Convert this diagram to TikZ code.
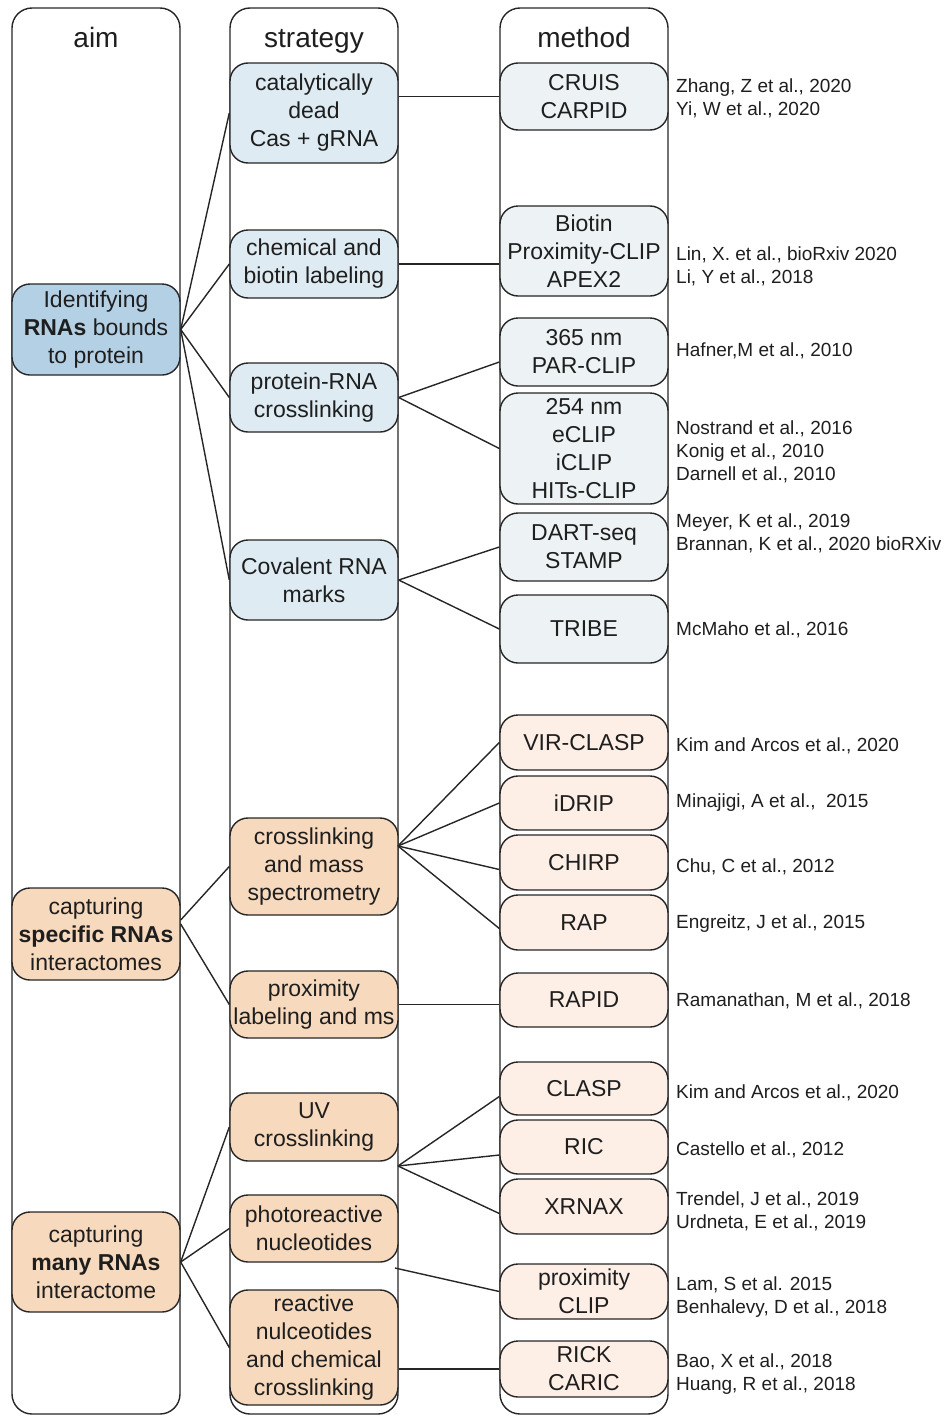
\documentclass[tikz,border=0pt]{standalone}
\usepackage{fontspec}
\setmainfont{Liberation Sans}
\usepackage{xcolor}
\definecolor{rnaline}{HTML}{262626}
\definecolor{rnatext}{HTML}{1E1E1E}
\definecolor{rnaaimblue}{HTML}{B4D0E4}
\definecolor{rnastrblue}{HTML}{DEEBF2}
\definecolor{rnametblue}{HTML}{EDF3F4}
\definecolor{rnapeach}{HTML}{F7D9BD}
\definecolor{rnametpeach}{HTML}{FDEEE6}
\usepackage{tikz}
\usetikzlibrary{positioning,calc}
\tikzset{
  rnacol/.style={draw=rnaline,line width=1.4pt,rounded corners=20pt},
  rnahead/.style={font=\fontsize{28}{32}\selectfont,text=rnatext,inner sep=0pt,anchor=base},
  rnabox/.style={draw=rnaline,line width=1.4pt,rounded corners=18pt,minimum width=168pt,align=center,inner xsep=1pt,inner ysep=0pt,font=\fontsize{23}{28}\selectfont,text=rnatext},
  rnaaim/.style={rnabox,fill=rnaaimblue},
  rnastr/.style={rnabox,fill=rnastrblue},
  rnamet/.style={rnabox,fill=rnametblue},
  rnaaimp/.style={rnabox,fill=rnapeach},
  rnastrp/.style={rnabox,fill=rnapeach},
  rnametp/.style={rnabox,fill=rnametpeach},
  rnaref/.style={anchor=west,align=left,font=\fontsize{19}{23}\selectfont,text=rnatext,inner sep=0pt},
  rnalink/.style={draw=rnaline,line width=1.4pt},
}
\begin{document}
\begin{tikzpicture}[x=1pt,y=-1pt]
\useasboundingbox (0,0) rectangle (946,1416);
 % three columns
\draw[rnacol] (12,8) rectangle (180,1414);
\draw[rnacol] (230,8) rectangle (398,1414);
\draw[rnacol] (500,8) rectangle (668,1414);
\node[rnahead] (haim) at (96,47) {aim};
\node[rnahead] (hstr) at (314,47) {strategy};
\node[rnahead] (hmet) at (584,47) {method};
 % aim
\node[rnaaim,minimum height=91pt] (id) at (96,329.5) {Identifying\\\textbf{RNAs} bounds\\to protein};
\node[rnaaimp,minimum height=92pt] (spec) at (96,934) {capturing\\\textbf{specific RNAs}\\interactomes};
\node[rnaaimp,minimum height=100pt] (many) at (96,1262) {capturing\\\textbf{many RNAs}\\interactome};
 % strategy
\node[rnastr,minimum height=100pt] (cas) at (314,113) {catalytically\\dead\\Cas + gRNA};
\node[rnastr,minimum height=68pt] (chem) at (314,264) {chemical and\\biotin labeling};
\node[rnastr,minimum height=69pt] (prx) at (314,397.5) {protein-RNA\\crosslinking};
\node[rnastr,minimum height=80pt] (cov) at (314,580) {Covalent RNA\\marks};
\node[rnastrp,minimum height=97pt] (xms) at (314,866.5) {crosslinking\\and mass\\spectrometry};
\node[rnastrp,minimum height=67pt] (plm) at (314,1004.5) {proximity\\labeling and ms};
\node[rnastrp,minimum height=68pt] (uv) at (314,1127) {UV\\crosslinking};
\node[rnastrp,minimum height=67pt] (pho) at (314,1228.5) {photoreactive\\nucleotides};
\node[rnastrp,minimum height=115pt] (rea) at (314,1347.5) {reactive\\nulceotides\\and chemical\\crosslinking};
 % method
\node[rnamet,minimum height=67pt] (cru) at (584,96.5) {CRUIS\\CARPID};
\node[rnamet,minimum height=90pt] (bio) at (584,251) {Biotin\\Proximity-CLIP\\APEX2};
\node[rnamet,minimum height=68pt] (par) at (584,352) {365 nm\\PAR-CLIP};
\node[rnamet,minimum height=111pt] (ecl) at (584,448.5) {254 nm\\eCLIP\\iCLIP\\HITs-CLIP};
\node[rnamet,minimum height=68pt] (dar) at (584,547) {DART-seq\\STAMP};
\node[rnamet,minimum height=68pt] (tri) at (584,629) {TRIBE};
\node[rnametp,minimum height=55pt] (vir) at (584,742.5) {VIR-CLASP};
\node[rnametp,minimum height=54pt] (idr) at (584,803) {iDRIP};
\node[rnametp,minimum height=55pt] (chi) at (584,862.5) {CHIRP};
\node[rnametp,minimum height=55pt] (rap) at (584,922.5) {RAP};
\node[rnametp,minimum height=54pt] (rpd) at (584,1000) {RAPID};
\node[rnametp,minimum height=53pt] (cla) at (584,1088.5) {CLASP};
\node[rnametp,minimum height=54pt] (ric) at (584,1147) {RIC};
\node[rnametp,minimum height=55pt] (xrn) at (584,1206.5) {XRNAX};
\node[rnametp,minimum height=55pt] (pcl) at (584,1291.5) {proximity\\CLIP};
\node[rnametp,minimum height=56pt] (rck) at (584,1369) {RICK\\CARIC};
 % references
\node[rnaref] (rcru) at (676,98) {Zhang, Z et al., 2020\\Yi, W et al., 2020};
\node[rnaref] (rbio) at (676,266) {Lin, X. et al., bioRxiv 2020\\Li, Y et al., 2018};
\node[rnaref] (rpar) at (676,351) {Hafner,M et al., 2010};
\node[rnaref] (recl) at (676,452) {Nostrand et al., 2016\\Konig et al., 2010\\Darnell et al., 2010};
\node[rnaref] (rdar) at (676,533) {Meyer, K et al., 2019\\Brannan, K et al., 2020 bioRXiv};
\node[rnaref] (rtri) at (676,630) {McMaho et al., 2016};
\node[rnaref] (rvir) at (676,746) {Kim and Arcos et al., 2020};
\node[rnaref] (ridr) at (676,803) {Minajigi, A et al.,~~2015};
\node[rnaref] (rchi) at (676,867) {Chu, C et al., 2012};
\node[rnaref] (rrap) at (676,924) {Engreitz, J et al., 2015};
\node[rnaref] (rrpd) at (676,1001) {Ramanathan, M et al., 2018};
\node[rnaref] (rcla) at (676,1093) {Kim and Arcos et al., 2020};
\node[rnaref] (rric) at (676,1150) {Castello et al., 2012};
\node[rnaref] (rxrn) at (676,1211) {Trendel, J et al., 2019\\Urdneta, E et al., 2019};
\node[rnaref] (rpcl) at (676,1297) {Lam, S et al. 2015\\Benhalevy, D et al., 2018};
\node[rnaref] (rrck) at (676,1374) {Bao, X et al., 2018\\Huang, R et al., 2018};
 % aim to strategy
\draw[rnalink] (id.east) -- (cas.west);
\draw[rnalink] (id.east) -- (chem.west);
\draw[rnalink] (id.east) -- (prx.west);
\draw[rnalink] (id.east) -- (cov.west);
\draw[rnalink] ($(spec.east)+(0,-14)$) -- (xms.west);
\draw[rnalink] ($(spec.east)+(0,-10)$) -- (plm.west);
\draw[rnalink] (many.east) -- (uv.west);
\draw[rnalink] (many.east) -- (pho.west);
\draw[rnalink] (many.east) -- (rea.west);
 % strategy to method
\coordinate (xmsout) at (398,846);
\coordinate (uvout) at (398,1166);
\coordinate (phout) at (395,1268);
\draw[rnalink] (cas.east |- cru.west) -- (cru.west);
\draw[rnalink] (chem.east) -- (chem.east -| bio.west);
\draw[rnalink] (prx.east) -- ($(par.west)+(0,10)$);
\draw[rnalink] (prx.east) -- (ecl.west);
\draw[rnalink] (cov.east) -- (dar.west);
\draw[rnalink] (cov.east) -- (tri.west);
\draw[rnalink] (xmsout) -- (vir.west);
\draw[rnalink] (xmsout) -- (idr.west);
\draw[rnalink] (xmsout) -- ($(chi.west)+(0,7)$);
\draw[rnalink] (xmsout) -- ($(rap.west)+(0,6)$);
\draw[rnalink] (plm.east) -- (plm.east -| rpd.west);
\draw[rnalink] (uvout) -- ($(cla.west)+(0,8)$);
\draw[rnalink] (uvout) -- ($(ric.west)+(0,8)$);
\draw[rnalink] (uvout) -- ($(xrn.west)+(0,7)$);
\draw[rnalink] (phout) -- (pcl.west);
\draw[rnalink] (rea.east |- rck.west) -- (rck.west);
\end{tikzpicture}
\end{document}
